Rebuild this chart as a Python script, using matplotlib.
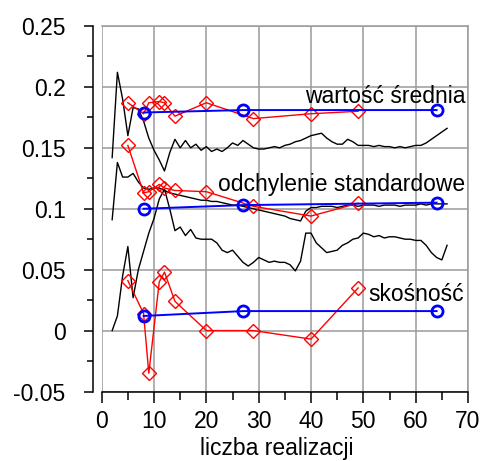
import matplotlib
matplotlib.use("Agg")
import matplotlib.pyplot as plt
from matplotlib.ticker import MultipleLocator

plt.rcParams['font.family'] = ['Liberation Sans', 'DejaVu Sans']

# ---- data ----
# convergence curves (black), x = number of realizations
x_curve = list(range(2, 67))
curve_mean = [0.142, 0.212, 0.190, 0.160, 0.183, 0.182, 0.172, 0.158, 0.148, 0.140,
              0.131, 0.146, 0.157, 0.150, 0.156, 0.150, 0.153, 0.148, 0.151, 0.147,
              0.149, 0.147, 0.150, 0.154, 0.152, 0.156, 0.153, 0.150, 0.149, 0.149,
              0.150, 0.151, 0.150, 0.152, 0.153, 0.155, 0.156, 0.158, 0.160, 0.161,
              0.162, 0.158, 0.155, 0.153, 0.153, 0.157, 0.155, 0.152, 0.152, 0.152,
              0.151, 0.152, 0.151, 0.151, 0.150, 0.151, 0.150, 0.151, 0.152, 0.152,
              0.154, 0.157, 0.160, 0.163, 0.166]
curve_std = [0.091, 0.138, 0.126, 0.126, 0.129, 0.122, 0.117, 0.116, 0.117, 0.117,
             0.115, 0.113, 0.112, 0.111, 0.110, 0.109, 0.108, 0.107, 0.107, 0.106,
             0.106, 0.105, 0.104, 0.103, 0.103, 0.102, 0.101, 0.100, 0.099, 0.098,
             0.097, 0.096, 0.095, 0.094, 0.092, 0.091, 0.090, 0.098, 0.101, 0.101,
             0.102, 0.102, 0.102, 0.101, 0.102, 0.103, 0.103, 0.102, 0.103, 0.103,
             0.103, 0.102, 0.103, 0.103, 0.103, 0.102, 0.103, 0.103, 0.103, 0.104,
             0.103, 0.104, 0.104, 0.104, 0.104]
curve_skew = [0.000, 0.012, 0.045, 0.069, 0.027, 0.050, 0.065, 0.080, 0.092, 0.108,
              0.116, 0.100, 0.082, 0.085, 0.078, 0.083, 0.076, 0.075, 0.075, 0.075,
              0.072, 0.066, 0.064, 0.066, 0.061, 0.056, 0.053, 0.056, 0.060, 0.058,
              0.056, 0.057, 0.056, 0.056, 0.054, 0.049, 0.057, 0.080, 0.080, 0.072,
              0.068, 0.064, 0.065, 0.066, 0.070, 0.072, 0.075, 0.076, 0.080, 0.079,
              0.077, 0.078, 0.076, 0.077, 0.077, 0.076, 0.075, 0.075, 0.074, 0.074,
              0.070, 0.064, 0.060, 0.058, 0.070]

# red series (diamonds)
x_red = [5, 8, 9, 11, 12, 14, 20, 29, 40, 49]
red_mean = [0.187, 0.178, 0.187, 0.188, 0.187, 0.176, 0.187, 0.174, 0.178, 0.180]
red_std = [0.152, 0.113, 0.114, 0.120, 0.117, 0.115, 0.114, 0.102, 0.094, 0.1045]
red_skew = [0.041, 0.014, -0.035, 0.040, 0.048, 0.024, 0.000, 0.000, -0.007, 0.035]

# blue series (circles)
x_blue = [8, 27, 64]
blue_mean = [0.179, 0.181, 0.181]
blue_std = [0.100, 0.103, 0.105]
blue_skew = [0.012, 0.016, 0.016]

x_ticks = [0, 10, 20, 30, 40, 50, 60, 70]
y_ticks = [-0.05, 0, 0.05, 0.1, 0.15, 0.2, 0.25]
y_ticklabels = ['-0.05', '0', '0.05', '0.1', '0.15', '0.2', '0.25']
x_label = 'liczba realizacji'
labels = ['wartość średnia', 'odchylenie standardowe', 'skośność']

# ---- figure ----
W, H = 483, 461
fig = plt.figure(figsize=(W / 100, H / 100), dpi=100)
x0, x1, yt, yb = 101.7, 468.0, 26.0, 391.5
ax = fig.add_axes([x0 / W, 1 - yb / H, (x1 - x0) / W, (yb - yt) / H])

FS = 16.5
grey = '#9a9a9a'

for c in (curve_mean, curve_std, curve_skew):
    ax.plot(x_curve, c, color='black', lw=1.0, zorder=3)

for r in (red_mean, red_std, red_skew):
    ax.plot(x_red, r, color='red', lw=1.0, marker='D', ms=7, mfc='none',
            mec='red', mew=1.0, zorder=4)

for b in (blue_mean, blue_std, blue_skew):
    ax.plot(x_blue, b, color='blue', lw=1.4, marker='o', ms=8, mfc='none',
            mec='blue', mew=2.0, zorder=5)

ax.set_xlim(0, 70)
ax.set_ylim(-0.05, 0.25)
ax.set_xticks(x_ticks)
ax.set_xticklabels([str(t) for t in x_ticks])
ax.set_yticks(y_ticks)
ax.set_yticklabels(y_ticklabels)
ax.xaxis.set_minor_locator(MultipleLocator(5))
ax.yaxis.set_minor_locator(MultipleLocator(0.025))

ax.grid(True, which='major', color=grey, lw=1.1, zorder=0)
ax.set_axisbelow(True)

for s in ('top', 'right'):
    ax.spines[s].set_color(grey)
    ax.spines[s].set_linewidth(1.1)
ax.spines['left'].set_position(('outward', 6.5))
ax.spines['left'].set_linewidth(1.1)
ax.spines['bottom'].set_linewidth(1.1)

ax.tick_params(axis='x', which='major', length=8, width=1.1, pad=5, labelsize=FS)
ax.tick_params(axis='x', which='minor', length=6, width=1.1)
ax.tick_params(axis='y', which='major', length=6.5, width=1.1, pad=13, labelsize=FS)
ax.tick_params(axis='y', which='minor', length=4, width=1.1)

ax.text(38.9, 0.1871, labels[0], fontsize=FS, ha='left', va='baseline', zorder=6)
ax.text(22.2, 0.1142, labels[1], fontsize=FS, ha='left', va='baseline', zorder=6)
ax.text(51.0, 0.0240, labels[2], fontsize=FS, ha='left', va='baseline', zorder=6)

fig.text(276.5 / W, 0.013, x_label, fontsize=FS, ha='center', va='baseline')

fig.savefig('out.png', dpi=100)
